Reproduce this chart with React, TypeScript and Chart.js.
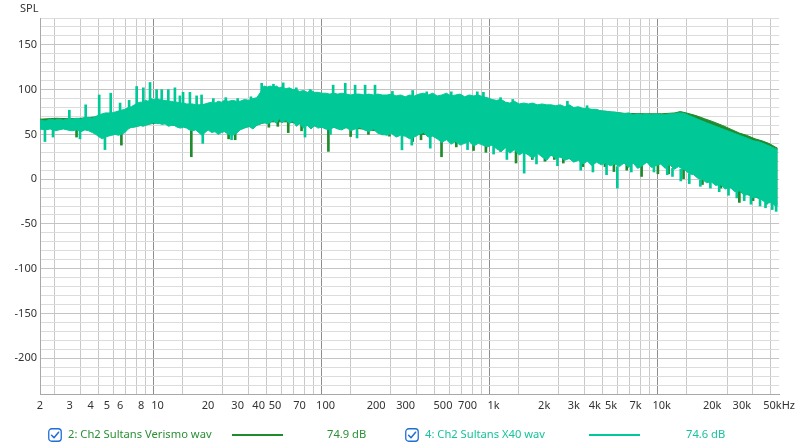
import React, { useEffect, useRef } from 'react';
import { Chart, registerables } from 'chart.js';

Chart.register(...registerables);

const FONT = '"Noto Sans", "Open Sans", "DejaVu Sans", sans-serif';

// ---------- axes ----------
const X_GRID = [
  2, 3, 4, 5, 6, 7, 8, 9,
  10, 20, 30, 40, 50, 60, 70, 80, 90,
  100, 200, 300, 400, 500, 600, 700, 800, 900,
  1000, 2000, 3000, 4000, 5000, 6000, 7000, 8000, 9000,
  10000, 20000, 30000, 40000, 50000,
];
const X_LABEL_VALUES = [2, 3, 4, 5, 6, 8, 10, 20, 30, 40, 50, 70, 100, 200, 300, 500, 700, 1000, 2000, 3000, 4000, 5000, 7000, 10000, 20000, 30000, 50000];
const X_LABEL_TEXT = ['2', '3', '4', '5', '6', '8', '10', '20', '30', '40', '50', '70', '100', '200', '300', '500', '700', '1k', '2k', '3k', '4k', '5k', '7k', '10k', '20k', '30k', '50kHz'];
const X_DECADES = [10, 100, 1000, 10000];

const Y_GRID = [
  -240, -230, -220, -210, -200, -190, -180, -170, -160, -150, -140, -130, -120, -110, -100,
  -90, -80, -70, -60, -50, -40, -30, -20, -10, 0, 10, 20, 30, 40, 50, 60, 70, 80, 90, 100,
  110, 120, 130, 140, 150, 160, 170, 180,
];
const Y_LABEL_VALUES = [150, 100, 50, 0, -50, -100, -150, -200];

// ---------- series 4: Ch2 Sultans X40 wav (light) ----------
const LIGHT_FREQ = [
  2.0, 2.15, 2.3, 2.45, 2.6, 2.75, 2.9, 3.1, 3.3, 3.5, 3.7, 3.9, 4.1, 4.3, 4.5, 4.7, 4.9, 5.1, 5.35, 5.6,
  5.85, 6.1, 6.4, 6.7, 7.0, 7.3, 7.6, 7.9, 8.2, 8.5, 8.8, 9.1, 9.5, 9.9, 10.3, 10.7, 11.1, 11.6, 12.1, 12.6,
  13.1, 13.7, 14.3, 14.9, 15.5, 16.2, 16.9, 17.6, 18.4, 19.2, 20, 21, 22, 23, 24, 25, 26.5, 28, 29.5, 31,
  33, 35, 37, 39, 41, 43, 45, 47, 49, 51, 53, 55, 58, 61, 64, 67, 70, 74, 78, 82,
  86, 90, 95, 100, 106, 112, 118, 125, 133, 141, 150, 160, 170, 181, 193, 205, 218, 232, 247, 263,
  280, 298, 317, 338, 360, 383, 408, 434, 462, 492, 524, 558, 594, 632, 673, 716, 762, 811, 863, 919,
  978, 1040, 1110, 1180, 1250, 1330, 1420, 1510, 1610, 1710, 1820, 1940, 2070, 2200, 2340, 2490, 2650, 2820, 3000, 3200,
  3400, 3620, 3850, 4100, 4370, 4650, 4950, 5270, 5610, 5970, 6360, 6770, 7200, 7670, 8170, 8700, 9260, 9860, 10500, 11200,
  11900, 12600, 13100, 13800, 14600, 15500, 16400, 17400, 18500, 19700, 21000, 22400, 23900, 25500, 27200, 29000, 31000, 33000, 35000, 37500,
  40000, 42500, 45000, 47500, 49000,
];
const LIGHT_HI = [
  66, 65, 67, 66, 67, 66, 67, 67, 68, 67, 69, 69, 68, 70, 72, 73, 74, 74, 74, 75,
  76, 77, 78, 80, 81, 83, 85, 86, 86, 88, 87, 90, 89, 90, 89, 88, 88, 87, 87, 86,
  86, 85, 85, 84, 84, 84, 83, 83, 83, 84, 85, 86, 85, 87, 86, 88, 87, 88, 87, 87,
  89, 88, 90, 91, 97, 104, 103, 104, 103, 104, 102, 103, 101, 102, 100, 100, 98, 99, 97, 99,
  97, 97, 96, 96, 95, 96, 95, 96, 95, 94, 95, 95, 94, 95, 94, 95, 94, 94, 95, 93,
  94, 92, 94, 93, 95, 96, 94, 96, 93, 94, 96, 93, 94, 95, 92, 94, 93, 94, 92, 91,
  89, 88, 89, 86, 85, 87, 84, 85, 84, 85, 83, 84, 83, 83, 82, 83, 81, 83, 80, 81,
  79, 79, 78, 78, 76, 76, 75, 75, 74, 73, 74, 72, 73, 72, 73, 72, 73, 72, 72, 73,
  73, 74, 74, 73, 71, 69, 67, 65, 63, 61, 59, 57, 55, 53, 51, 49, 47, 45, 43, 42,
  40, 38, 36, 34, 33,
];
const LIGHT_LO = [
  56, 55, 56, 54, 55, 56, 55, 54, 55, 53, 55, 54, 52, 50, 47, 45, 47, 48, 49, 50,
  49, 50, 52, 56, 58, 58, 59, 60, 59, 60, 61, 62, 63, 62, 62, 61, 62, 59, 60, 60,
  58, 57, 58, 57, 55, 54, 55, 52, 49, 52, 55, 52, 53, 50, 52, 53, 50, 49, 51, 55,
  57, 59, 56, 60, 62, 63, 62, 63, 66, 62, 68, 63, 66, 62, 65, 59, 62, 57, 60, 56,
  60, 57, 58, 56, 55, 58, 56, 55, 58, 54, 56, 58, 55, 53, 56, 51, 50, 49, 51, 47,
  49, 48, 45, 47, 50, 52, 47, 48, 45, 41, 44, 39, 42, 38, 40, 42, 37, 40, 38, 36,
  38, 34, 31, 35, 29, 33, 27, 30, 27, 23, 29, 25, 21, 27, 23, 25, 21, 23, 19, 21,
  17, 20, 15, 19, 16, 18, 15, 17, 14, 18, 13, 18, 12, 15, 19, 13, 15, 17, 12, 16,
  11, 14, 12, 10, 6, 5, 1, 0, -4, -3, -7, -6, -11, -9, -14, -13, -18, -17, -21, -20,
  -24, -27, -26, -30, -29,
];
const LIGHT_SPIKE_F = [
  2.99, 3.74, 4.5, 5.27, 5.99, 6.78, 7.52, 8.24, 9.03, 9.88, 10.6, 11.6, 12.7, 13.6, 14.2, 15.6, 17.1, 18.3, 21.5, 25.5,
  30, 36, 41.7, 49, 56, 67, 81, 111, 131, 150, 172, 197, 250, 330, 400, 560, 800, 870, 1100, 1300,
  2750, 3600,
  2.14, 2.39, 3.46, 4.87, 18.6, 27.6, 75.5, 107, 154, 285, 326, 420, 700, 1000, 1200, 1520, 1800, 2400, 3300, 3900,
  4700, 5450, 6600, 9000, 10800, 11600, 13000, 14600, 17000, 19500, 22000, 25000, 28000, 31000, 34000, 38500, 41500, 45500, 48000,
];
const LIGHT_SPIKE_LOW = [
  63, 64, 66, 68, 70, 74, 78, 80, 82, 84, 82, 82, 80, 80, 80, 78, 78, 78, 80, 82,
  82, 84, 95, 98, 96, 94, 92, 90, 90, 90, 90, 90, 88, 88, 88, 88, 88, 86, 82, 80,
  78, 75,
  42, 47, 45, 33, 40, 44, 47, 50, 46, 32.7, 38, 34.6, 33, 28, 22, 6.7, 17, 15, 10, 8,
  5, -10, 8, 8, 5, 3, -2, -5, -8, -10, -14, -18, -21, -24, -28, -30, -32, -34, -36,
];
const LIGHT_SPIKE_HIGH = [
  77, 83, 94, 96, 85, 88, 103.5, 102, 108, 100, 100, 100, 102, 93, 97, 97, 93, 94, 90, 91,
  90, 92, 107, 106, 107.5, 102, 100, 105, 107, 105, 105, 105, 98, 99, 97.5, 97.5, 97.5, 97, 91, 89,
  87, 82,
  56, 56, 54, 48, 52, 51, 58, 56, 56, 49, 46, 48, 42, 38, 34, 30, 28, 24, 20, 16,
  17, 14, 17, 14, 13, 12, 11, 6, 0, -3, -6, -9, -13, -17, -18, -20, -26, -26, -28,
];

// ---------- series 2: Ch2 Sultans Verismo wav (dark) ----------
const DARK_FREQ = [
  2, 2.5, 3, 3.5, 4, 4.5, 5, 5.5, 6.5, 8, 10, 13, 16, 20, 25, 30, 40, 45, 60, 80,
  100, 150, 200, 300, 400, 600, 800, 1000, 1500, 2000, 3000, 4000, 5000, 6000, 8000, 10000, 12000, 12900, 14000, 16000,
  18000, 20000, 23000, 26000, 29000, 32000, 36000, 40000, 44000, 47300, 49000,
];
const DARK_HI = [
  67, 68, 67.5, 68, 69, 70, 71, 72, 76, 82, 86, 84, 82, 83, 85, 85, 88, 100, 99, 95,
  94, 93, 92, 91, 92, 91, 90, 86, 83, 82, 79, 77, 75, 73.5, 73, 73, 74, 75.5, 74, 71,
  67.5, 64.5, 60, 55.5, 51.5, 49, 45, 42.5, 39.5, 36, 34.5,
];
const DARK_LO = [
  59, 59, 58, 58, 56, 55, 54, 54, 57, 60, 63, 60, 57, 56, 55, 56, 61, 64, 64, 60,
  58, 57, 54, 50, 50, 44, 42, 39, 32, 28, 22, 20, 18, 18, 19, 17, 16, 14, 11, 6,
  2, -1, -6, -10, -14, -17, -20, -23, -25, -26, -27,
];
const DARK_SPIKE_F = [
  3.3, 6.1, 15.9, 26.5, 29, 46, 52, 60, 72, 104, 141, 180, 219, 240, 330, 370, 490, 600, 760, 900,
  1100, 1360, 1700, 2020, 2300, 2600, 3400, 4600, 5200, 6200, 7600, 9500, 11000, 13500, 17500, 22500, 29000, 35000, 42000,
];
const DARK_SPIKE_LOW = [
  47, 38, 25, 45, 44, 58, 59, 52, 54, 31, 47.6, 50, 49.5, 48, 42, 44, 25, 36, 32, 30,
  31, 18, 22, 20, 22, 18, 14, 14, 8.5, 10, 3, 6, 6, 0, -6, -10, -26, -24, -28,
];
const DARK_SPIKE_HIGH = [
  58, 57, 57, 56, 56, 66, 66, 64, 62, 58, 57, 56, 55, 54, 50, 52, 46, 44, 44, 40,
  40, 34, 30, 30, 30, 24, 20, 20, 18, 18, 18, 16, 17, 12, 0, -5, -14, -18, -22,
];

const SERIES_NAMES = ['2: Ch2 Sultans Verismo wav', '4: Ch2 Sultans X40 wav'];
const SERIES_LEVELS = ['74.9 dB', '74.6 dB'];

const DARK = '#1f8b2c';
const LIGHT = '#00c896';
const DARK_TEXT = '#2a8f34';
const LIGHT_TEXT = '#17c39a';

const xy = (f: number[], v: number[]) => f.map((x, i) => ({ x, y: v[i] }));
const bars = (f: number[], lo: number[], hi: number[]) => f.map((x, i) => ({ x, y: [lo[i], hi[i]] }));

function CheckBox({ left }: { left: number }) {
  return (
    <svg width={14} height={14} style={{ position: 'absolute', left, top: 428 }} viewBox="0 0 14 14">
      <rect x={0.75} y={0.75} width={12.5} height={12.5} rx={3} ry={3} fill="#fff" stroke="#1f6fd6" strokeWidth={1.3} />
      <path d="M3.6 7.2 L6 9.7 L10.6 4.2" fill="none" stroke="#1f6fd6" strokeWidth={1.5} strokeLinecap="round" strokeLinejoin="round" />
    </svg>
  );
}

export default function App() {
  const ref = useRef<HTMLCanvasElement>(null);

  useEffect(() => {
    document.body.style.margin = '0';
    const tickFont = { family: FONT, size: 11 };
    const line = (data: any, color: string, order: number, fill: any) => ({
      type: 'line' as const,
      data,
      borderColor: color,
      backgroundColor: color,
      borderWidth: 1,
      pointRadius: 0,
      tension: 0,
      fill,
      order,
    });
    const spikes = (data: any, color: string, order: number) => ({
      type: 'bar' as const,
      data,
      backgroundColor: color,
      borderWidth: 0,
      barThickness: 2,
      grouped: false,
      order,
    });
    const chart = new Chart(ref.current as HTMLCanvasElement, {
      type: 'line',
      data: {
        datasets: [
          line(xy(LIGHT_FREQ, LIGHT_HI), LIGHT, 1, '+1'),
          line(xy(LIGHT_FREQ, LIGHT_LO), LIGHT, 1, false),
          spikes(bars(LIGHT_SPIKE_F, LIGHT_SPIKE_LOW, LIGHT_SPIKE_HIGH), LIGHT, 0),
          line(xy(DARK_FREQ, DARK_HI), DARK, 6, '+1'),
          line(xy(DARK_FREQ, DARK_LO), DARK, 6, false),
          spikes(bars(DARK_SPIKE_F, DARK_SPIKE_LOW, DARK_SPIKE_HIGH), DARK, 5),
        ] as any,
      },
      options: {
        responsive: false,
        animation: false,
        events: [],
        layout: { padding: { left: 0, top: 18, right: 20, bottom: 34 } },
        plugins: { legend: { display: false }, tooltip: { enabled: false } },
        scales: {
          x: {
            type: 'logarithmic',
            min: 2,
            max: 50000,
            offset: false,
            afterBuildTicks: (s: any) => {
              s.ticks = X_GRID.map((v) => ({ value: v }));
            },
            afterFit: (s: any) => {
              s.height = 18;
            },
            ticks: {
              autoSkip: false,
              maxRotation: 0,
              minRotation: 0,
              padding: 5,
              color: '#333',
              font: tickFont,
              callback: (v: any) => {
                const i = X_LABEL_VALUES.indexOf(Number(v));
                return i >= 0 ? X_LABEL_TEXT[i] : '';
              },
            },
            grid: {
              drawTicks: false,
              lineWidth: 1,
              color: (c: any) => (c.tick && X_DECADES.includes(c.tick.value) ? '#8e8e8e' : '#c9c9c9'),
            },
            border: { color: '#a8a8a8' },
          } as any,
          y: {
            type: 'linear',
            min: -240,
            max: 180,
            afterBuildTicks: (s: any) => {
              s.ticks = Y_GRID.map((v) => ({ value: v }));
            },
            afterFit: (s: any) => {
              s.width = 40;
            },
            ticks: {
              autoSkip: false,
              padding: 3,
              color: '#333',
              font: tickFont,
              callback: (v: any) => (Y_LABEL_VALUES.includes(Number(v)) ? String(v) : ''),
            },
            grid: {
              drawTicks: false,
              lineWidth: 1,
              color: (c: any) => (c.tick && Y_LABEL_VALUES.includes(c.tick.value) ? '#c4c4c4' : '#dcdcdc'),
            },
            border: { color: '#a8a8a8' },
          } as any,
        },
      },
    });
    return () => chart.destroy();
  }, []);

  const legendText: React.CSSProperties = { position: 'absolute', top: 426, fontSize: 11.2, lineHeight: '16px', whiteSpace: 'nowrap' };

  return (
    <div style={{ position: 'relative', width: 800, height: 446, overflow: 'hidden', background: '#fff', fontFamily: FONT }}>
      <canvas ref={ref} width={800} height={446} style={{ position: 'absolute', left: 0, top: 0, width: 800, height: 446 }} />
      <div style={{ position: 'absolute', left: 20, top: 0, fontSize: 11, lineHeight: '15px', color: '#333' }}>SPL</div>

      <CheckBox left={48} />
      <div style={{ ...legendText, left: 68, color: DARK_TEXT }}>{SERIES_NAMES[0]}</div>
      <div style={{ position: 'absolute', left: 232, top: 433.5, width: 51, height: 2, background: DARK }} />
      <div style={{ ...legendText, left: 327, color: DARK_TEXT }}>{SERIES_LEVELS[0]}</div>

      <CheckBox left={405} />
      <div style={{ ...legendText, left: 425, color: LIGHT_TEXT }}>{SERIES_NAMES[1]}</div>
      <div style={{ position: 'absolute', left: 589, top: 433.5, width: 51, height: 2, background: LIGHT }} />
      <div style={{ ...legendText, left: 686, color: LIGHT_TEXT }}>{SERIES_LEVELS[1]}</div>
    </div>
  );
}
